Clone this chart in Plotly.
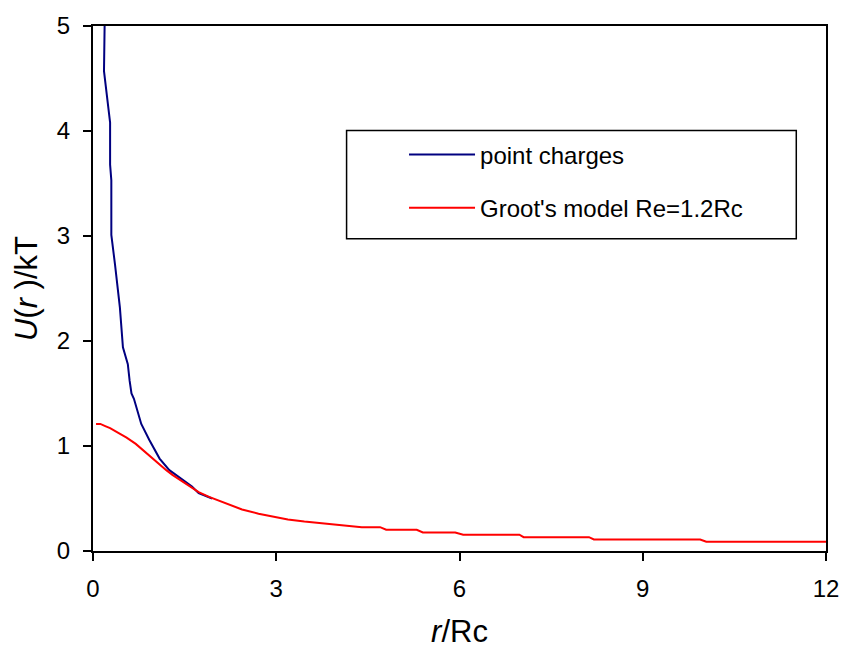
import plotly.graph_objects as go

# Data
blue_x = [0.19, 0.18, 0.28, 0.28, 0.30, 0.30, 0.36, 0.44, 0.49, 0.57, 0.60, 0.63, 0.67,
          0.79, 0.92, 1.09, 1.25, 1.46, 1.62, 1.73, 1.95]
blue_y = [5.0, 4.57, 4.08, 3.68, 3.53, 3.01, 2.73, 2.32, 1.94, 1.78, 1.62, 1.50, 1.45,
          1.21, 1.06, 0.88, 0.77, 0.68, 0.615, 0.55, 0.50]

red_x = [0.05, 0.12, 0.20, 0.28, 0.40, 0.55, 0.70, 0.82, 0.95, 1.09, 1.20, 1.30, 1.45,
         1.62, 1.73, 1.90, 2.05, 2.22, 2.44, 2.71, 2.98, 3.19, 3.46, 3.73, 4.11, 4.40,
         4.70, 4.80, 5.30, 5.40, 5.93, 6.06, 6.98, 7.05, 8.12, 8.20, 9.94, 10.04, 12.0]
red_y = [1.21, 1.21, 1.19, 1.17, 1.13, 1.08, 1.02, 0.96, 0.89, 0.82, 0.77, 0.725, 0.665,
         0.60, 0.56, 0.515, 0.48, 0.44, 0.395, 0.355, 0.325, 0.30, 0.28, 0.265, 0.24, 0.227,
         0.227, 0.202, 0.202, 0.177, 0.177, 0.155, 0.155, 0.132, 0.132, 0.11, 0.11, 0.088, 0.088]

x_ticks = [0, 3, 6, 9, 12]
y_ticks = [0, 1, 2, 3, 4, 5]
series_names = ["point charges", "Groot's model Re=1.2Rc"]

FONT = "Liberation Sans, Arial, sans-serif"

fig = go.Figure()
fig.add_trace(go.Scatter(x=blue_x, y=blue_y, mode="lines", name=series_names[0],
                         legendgroup="a", line=dict(color="#000080", width=2)))
fig.add_trace(go.Scatter(x=red_x, y=red_y, mode="lines", name=series_names[1],
                         legendgroup="b", line=dict(color="#FF0000", width=2)))

W, H = 851, 656
ml, mr, mt, mb = 93, 18, 23, 105
pw, ph = W - ml - mr, H - mt - mb

def px2x(p):
    return (p - ml) / pw

def py2y(p):
    return (H - mb - p) / ph

fig.update_layout(
    width=W, height=H,
    margin=dict(l=ml, r=mr, t=mt, b=mb),
    paper_bgcolor="white", plot_bgcolor="white",
    font=dict(family=FONT, color="black"),
    showlegend=True,
    legend=dict(
        x=px2x(407), y=py2y(130), xanchor="left", yanchor="top",
        bgcolor="rgba(0,0,0,0)", borderwidth=0,
        font=dict(size=24, family=FONT),
        tracegroupgap=19, itemwidth=66,
    ),
    shapes=[dict(type="rect", xref="paper", yref="paper",
                 x0=px2x(349), x1=px2x(803), y0=py2y(237), y1=py2y(128),
                 line=dict(color="black", width=1.5), fillcolor="rgba(0,0,0,0)")],
)

fig.update_xaxes(
    range=[0, 12], tickvals=x_ticks, ticktext=[str(v) for v in x_ticks],
    showline=True, linecolor="black", linewidth=2, mirror=True,
    ticks="outside", ticklen=8, tickwidth=2, tickcolor="black",
    showgrid=False, zeroline=False,
    tickfont=dict(size=24, family=FONT), ticklabelstandoff=7,
    title=dict(text="<i>r</i>/Rc", font=dict(size=31, family=FONT), standoff=20),
)
fig.update_yaxes(
    range=[0, 5], tickvals=y_ticks, ticktext=[str(v) for v in y_ticks],
    showline=True, linecolor="black", linewidth=2, mirror=True,
    ticks="outside", ticklen=8, tickwidth=2, tickcolor="black",
    showgrid=False, zeroline=False,
    tickfont=dict(size=24, family=FONT), ticklabelstandoff=8,
    title=dict(text="<i>U</i>(<i>r</i> )/kT", font=dict(size=31, family=FONT), standoff=10),
)

fig.write_html("out.html")
